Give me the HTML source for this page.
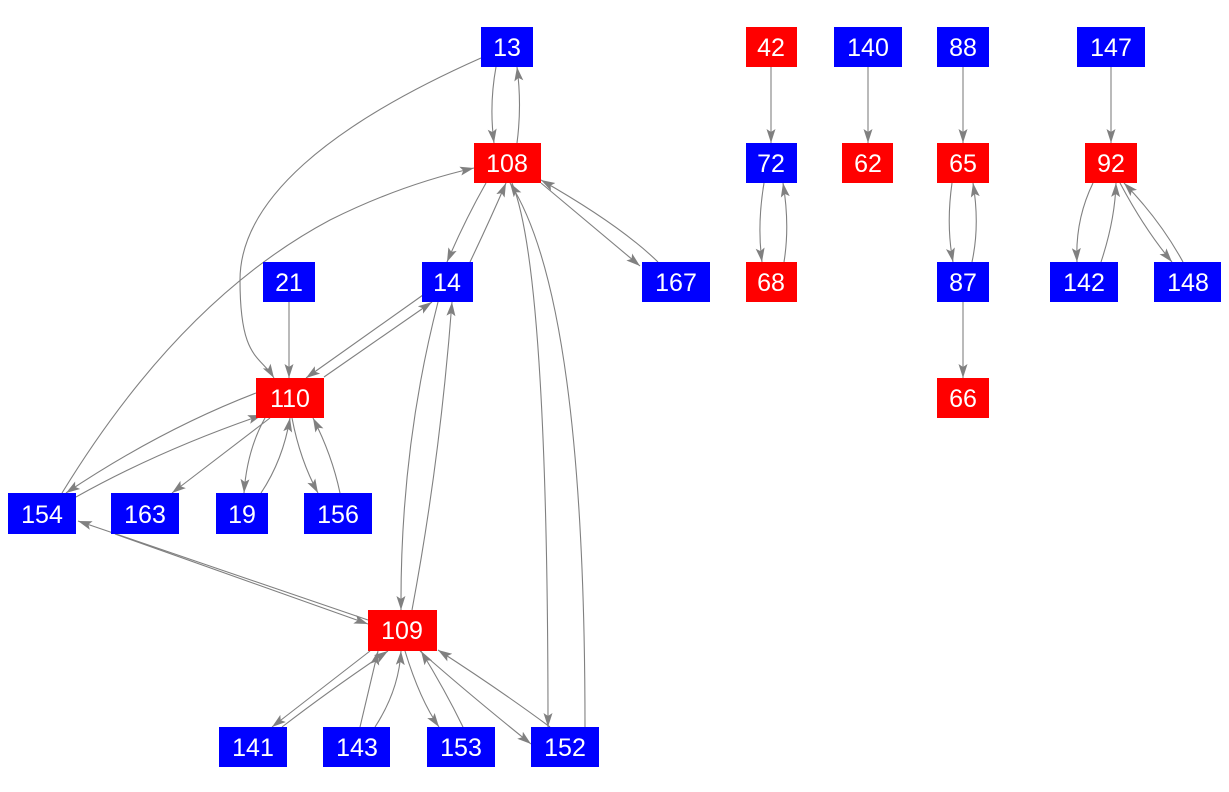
<!DOCTYPE html>
<html><head><meta charset="utf-8"><style>
html,body{margin:0;padding:0;background:#fff;}
svg{display:block;}
text{font-family:"Liberation Sans",Arial,sans-serif;font-size:25px;fill:#fff;text-anchor:middle;dominant-baseline:central;}
path{fill:none;stroke:#808080;stroke-width:1.1;}
</style></head><body>
<svg width="1229" height="792" viewBox="0 0 1229 792" xmlns="http://www.w3.org/2000/svg">
<defs><marker id="a" viewBox="0 0 14 10" refX="14" refY="5" markerWidth="14" markerHeight="10" markerUnits="userSpaceOnUse" orient="auto"><path d="M0,0.5 L14,5 L0,9.5 L3,5 Z" style="fill:#808080;stroke:none"/></marker></defs>
<g marker-end="url(#a)">
<path d="M496,67 Q489,105 494,143"/>
<path d="M517,143 Q522,105 517,67"/>
<path d="M481,58 C330,125 240,200 240,280 S260,355 274,378"/>
<path d="M486,183 Q465,220 447,262"/>
<path d="M470,262 Q490,220 506,183"/>
<path d="M541,183 L640,266"/>
<path d="M658,262 Q620,225 541,180"/>
<path d="M512,183 Q548,270 548,727"/>
<path d="M585,727 Q585,300 510,183"/>
<path d="M62,493 Q180,300 330,220 Q400,185 474,168"/>
<path d="M289,302 L289,378"/>
<path d="M423,295 L306,378"/>
<path d="M324,377 L432,302"/>
<path d="M438,302 Q400,450 401,610"/>
<path d="M412,610 Q440,460 452,302"/>
<path d="M256,393 Q160,430 66,493"/>
<path d="M76,497 Q160,450 262,415"/>
<path d="M270,418 L172,493"/>
<path d="M265,418 Q247,450 244,493"/>
<path d="M261,493 Q283,460 290,418"/>
<path d="M292,418 Q300,460 318,493"/>
<path d="M340,493 Q332,455 313,418"/>
<path d="M368,620 L78,521"/>
<path d="M115,534 L368,624"/>
<path d="M370,651 L272,727"/>
<path d="M282,727 Q330,690 388,651"/>
<path d="M360,727 L378,651"/>
<path d="M375,727 Q399,690 401,651"/>
<path d="M405,651 Q420,700 439,727"/>
<path d="M463,727 Q445,690 421,651"/>
<path d="M420,651 Q470,695 531,744"/>
<path d="M550,727 Q500,690 438,650"/>
<path d="M771,67 L771,143"/>
<path d="M764,183 Q757,225 762,262"/>
<path d="M784,262 Q790,225 783,183"/>
<path d="M868,67 L868,143"/>
<path d="M963,67 L963,143"/>
<path d="M952,183 Q946,225 953,262"/>
<path d="M972,262 Q980,225 973,183"/>
<path d="M963,302 L963,378"/>
<path d="M1111,67 L1111,143"/>
<path d="M1093,183 Q1075,220 1077,262"/>
<path d="M1101,262 Q1115,220 1116,183"/>
<path d="M1120,183 Q1145,230 1172,262"/>
<path d="M1183,262 Q1160,220 1124,183"/>
</g>
<g>
<rect x="481" y="27" width="52" height="40" fill="#00f"/><text x="507" y="48">13</text>
<rect x="474" y="143" width="67" height="40" fill="#f00"/><text x="507" y="164">108</text>
<rect x="746" y="27" width="51" height="40" fill="#f00"/><text x="771" y="48">42</text>
<rect x="834" y="27" width="68" height="40" fill="#00f"/><text x="868" y="48">140</text>
<rect x="937" y="27" width="52" height="40" fill="#00f"/><text x="963" y="48">88</text>
<rect x="1077" y="27" width="68" height="40" fill="#00f"/><text x="1111" y="48">147</text>
<rect x="746" y="143" width="51" height="40" fill="#00f"/><text x="771" y="164">72</text>
<rect x="842" y="143" width="51" height="40" fill="#f00"/><text x="868" y="164">62</text>
<rect x="937" y="143" width="52" height="40" fill="#f00"/><text x="963" y="164">65</text>
<rect x="1085" y="143" width="52" height="40" fill="#f00"/><text x="1111" y="164">92</text>
<rect x="263" y="262" width="52" height="40" fill="#00f"/><text x="289" y="283">21</text>
<rect x="422" y="262" width="51" height="40" fill="#00f"/><text x="447" y="283">14</text>
<rect x="642" y="262" width="68" height="40" fill="#00f"/><text x="676" y="283">167</text>
<rect x="746" y="262" width="51" height="40" fill="#f00"/><text x="771" y="283">68</text>
<rect x="937" y="262" width="52" height="40" fill="#00f"/><text x="963" y="283">87</text>
<rect x="1050" y="262" width="68" height="40" fill="#00f"/><text x="1084" y="283">142</text>
<rect x="1154" y="262" width="67" height="40" fill="#00f"/><text x="1188" y="283">148</text>
<rect x="256" y="378" width="68" height="40" fill="#f00"/><text x="290" y="399">110</text>
<rect x="937" y="378" width="52" height="40" fill="#f00"/><text x="963" y="399">66</text>
<rect x="8" y="493" width="68" height="41" fill="#00f"/><text x="42" y="515">154</text>
<rect x="111" y="493" width="68" height="41" fill="#00f"/><text x="145" y="515">163</text>
<rect x="216" y="493" width="52" height="41" fill="#00f"/><text x="242" y="515">19</text>
<rect x="304" y="493" width="68" height="41" fill="#00f"/><text x="338" y="515">156</text>
<rect x="368" y="610" width="69" height="41" fill="#f00"/><text x="402" y="631">109</text>
<rect x="219" y="727" width="68" height="40" fill="#00f"/><text x="253" y="748">141</text>
<rect x="323" y="727" width="67" height="40" fill="#00f"/><text x="357" y="748">143</text>
<rect x="427" y="727" width="68" height="40" fill="#00f"/><text x="461" y="748">153</text>
<rect x="531" y="727" width="68" height="40" fill="#00f"/><text x="565" y="748">152</text>
</g>
</svg>
</body></html>
